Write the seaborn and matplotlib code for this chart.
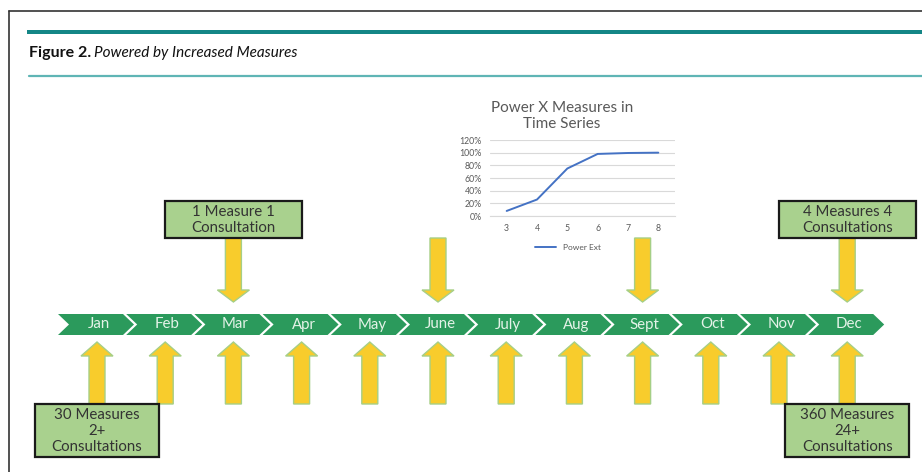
import matplotlib
matplotlib.use("Agg")
import matplotlib.pyplot as plt
from matplotlib.patches import Polygon, Rectangle
import seaborn as sns
import pandas as pd

# ===================== DATA =====================
months = ["Jan", "Feb", "Mar", "Apr", "May", "June",
          "July", "Aug", "Sept", "Oct", "Nov", "Dec"]
down_months = ["Mar", "June", "Sept", "Dec"]

top_boxes = {"Mar": "1 Measure 1\nConsultation",
             "Dec": "4 Measures 4\nConsultations"}
bottom_boxes = {"Jan": "30 Measures\n2+\nConsultations",
                "Dec": "360 Measures\n24+\nConsultations"}

inset_x = [3, 4, 5, 6, 7, 8]
power_ext = [0.08, 0.26, 0.75, 0.98, 0.995, 1.0]

# ===================== STYLE =====================
sns.set_style("white")
plt.rcParams["font.family"] = ["Lato", "DejaVu Sans"]

GREEN = "#2b9a5c"
YELLOW = "#f8cc2c"
ARROW_EDGE = "#a6cf86"
BOX_FILL = "#a9d18e"
TEAL = "#148686"
TEAL_LIGHT = "#5fb5b5"

fig = plt.figure(figsize=(9.22, 4.72), dpi=100)
ax = fig.add_axes([0, 0, 1, 1])
ax.set_xlim(0, 922)
ax.set_ylim(472, 0)
ax.axis("off")

# ===================== PAGE FRAME + TITLE =====================
ax.plot([9, 9], [11, 472], color="#333333", lw=1.2)
ax.plot([9, 922], [11, 11], color="#333333", lw=1.2)
ax.add_patch(Rectangle((27, 29.5), 922 - 27, 4.5, color=TEAL, lw=0))
ax.plot([29, 922], [76, 76], color=TEAL_LIGHT, lw=1.6)

t1 = ax.text(29, 53, "Figure 2.", fontsize=11.5, fontweight="bold",
             va="center", ha="left", color="#111111")
fig.canvas.draw()
bb = t1.get_window_extent()
ax.text(29 + bb.width + 3, 53, "Powered by Increased Measures", fontsize=11,
        fontstyle="italic", va="center", ha="left", color="#111111")

# ===================== TIMELINE =====================
step = 68.2
arrow_x0 = 97
chev_l0 = 58
chev_w, chev_d = 76, 11
chev_top, chev_bot = 314, 335
chev_mid = (chev_top + chev_bot) / 2


def up_arrow(cx):
    pts = [(cx - 8, 404), (cx - 8, 356), (cx - 16, 356), (cx, 342),
           (cx + 16, 356), (cx + 8, 356), (cx + 8, 404)]
    ax.add_patch(Polygon(pts, closed=True, fc=YELLOW, ec=ARROW_EDGE, lw=1))


def down_arrow(cx):
    pts = [(cx - 8, 238), (cx - 8, 290), (cx - 16, 290), (cx, 302),
           (cx + 16, 290), (cx + 8, 290), (cx + 8, 238)]
    ax.add_patch(Polygon(pts, closed=True, fc=YELLOW, ec=ARROW_EDGE, lw=1))


def label_box(cx, top, w, h, text):
    ax.add_patch(Rectangle((cx - w / 2, top), w, h, fc=BOX_FILL,
                           ec="#1a1a1a", lw=1.6, zorder=3))
    ax.text(cx, top + h / 2 + 0.5, text, ha="center", va="center",
            fontsize=10.8, color="#333333", linespacing=1.18, zorder=4)


for i, m in enumerate(months):
    L = chev_l0 + i * step
    pts = [(L, chev_top), (L + chev_w - chev_d, chev_top), (L + chev_w, chev_mid),
           (L + chev_w - chev_d, chev_bot), (L, chev_bot), (L + chev_d, chev_mid)]
    ax.add_patch(Polygon(pts, closed=True, fc=GREEN, ec="none"))
    ax.text(L + 41, chev_mid, m, ha="center", va="center", fontsize=10.8,
            color="#e4f3e8")

    cx = arrow_x0 + i * step
    up_arrow(cx)
    if m in down_months:
        down_arrow(cx)
    if m in top_boxes:
        label_box(cx, 201, 137, 37, top_boxes[m])
    if m in bottom_boxes:
        label_box(cx, 404, 124, 53, bottom_boxes[m])

# ===================== INSET CHART =====================
ax.text(562, 116, "Power X Measures in\nTime Series", ha="center", va="center",
        fontsize=11, color="#595959", linespacing=1.15)

ins = fig.add_axes([490 / 922, 1 - 216 / 472, 185 / 922, 76 / 472])
df = pd.DataFrame({"x": inset_x, "Power Ext": power_ext})
sns.lineplot(data=df, x="x", y="Power Ext", ax=ins, color="#4472c4",
             lw=1.4, label="Power Ext")
ins.set_xlim(2.45, 8.55)
ins.set_ylim(0, 1.2)
ins.set_yticks([0, 0.2, 0.4, 0.6, 0.8, 1.0, 1.2])
ins.set_yticklabels(["0%", "20%", "40%", "60%", "80%", "100%", "120%"])
ins.set_xticks(inset_x)
ins.tick_params(labelsize=6.3, colors="#595959", length=0, pad=6)
ins.set_xlabel("")
ins.set_ylabel("")
ins.grid(axis="y", color="#d9d9d9", lw=0.8)
for s in ["top", "right", "left"]:
    ins.spines[s].set_visible(False)
ins.spines["bottom"].set_color("#d9d9d9")
ins.set_facecolor("none")
ins.legend(loc="upper center", bbox_to_anchor=(0.42, -0.27), frameon=False,
           fontsize=6, handlelength=2.5, labelcolor="#595959")

fig.savefig("out.png", dpi=100)
